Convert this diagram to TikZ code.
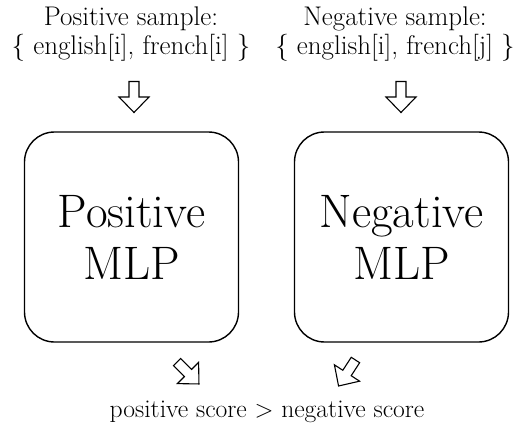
\documentclass[tikz,border=0pt]{standalone}
\usetikzlibrary{positioning}
\begin{document}
\begin{tikzpicture}[x=1pt,y=-1pt,
  lbl/.style={font=\fontsize{27}{29}\selectfont, align=center, inner sep=0pt},
  mlp/.style={draw, line width=1.4pt, rounded corners=30pt, minimum width=214pt, minimum height=210pt, font=\fontsize{47}{52}\selectfont, align=center},
  fatarrow/.style={draw, line width=1.1pt, fill=white, line join=miter}]
\useasboundingbox (0,0) rectangle (525,425);
\node[lbl] (pos) at (131,34) {Positive sample:\\\{ english[i], french[i] \}};
\node[lbl] (neg) at (395,34) {Negative sample:\\\{ english[i], french[j] \}};
\node[mlp] (pmlp) at (131.5,237) {Positive\\MLP};
\node[mlp] (nmlp) at (401.5,237) {Negative\\MLP};
\node[lbl, font=\fontsize{25.6}{28}\selectfont, anchor=base] (score) at (267,417) {positive score $>$ negative score};
\newcommand{\fatarrowpath}{(-5,-15.5) -- (5,-15.5) -- (5,0) -- (15,0) -- (0,15.5) -- (-15,0) -- (-5,0) -- cycle}
\begin{scope}[shift={(134,97)}] \draw[fatarrow] \fatarrowpath; \end{scope}
\begin{scope}[shift={(401,97)}] \draw[fatarrow] \fatarrowpath; \end{scope}
\begin{scope}[shift={(188,373)}, rotate=45] \draw[fatarrow] \fatarrowpath; \end{scope}
\begin{scope}[shift={(347,373)}, rotate=-33] \draw[fatarrow] \fatarrowpath; \end{scope}
\end{tikzpicture}
\end{document}
